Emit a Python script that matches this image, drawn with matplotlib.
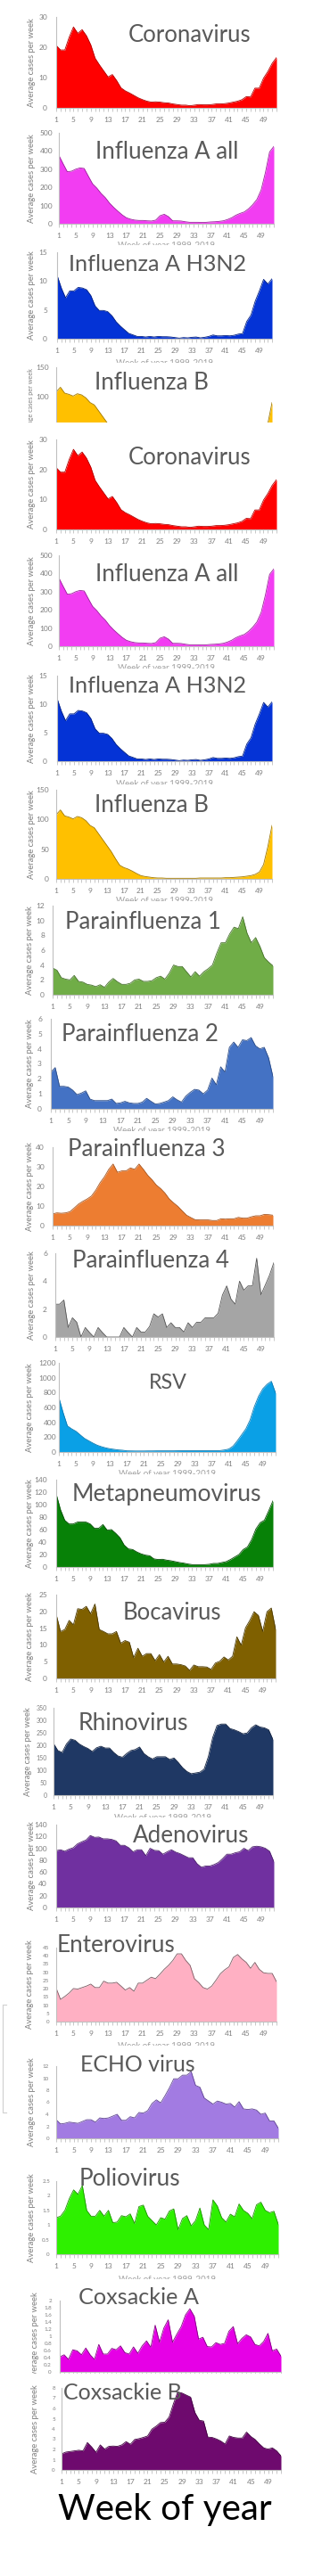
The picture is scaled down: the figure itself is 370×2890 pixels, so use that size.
import numpy as np
import matplotlib
matplotlib.use('Agg')
import matplotlib.pyplot as plt
from matplotlib.transforms import Bbox, TransformedBbox
from matplotlib.patches import Rectangle
from matplotlib.lines import Line2D
from matplotlib.ticker import FuncFormatter

W, H, DPI = 370, 2890, 100
plt.rcParams['font.family'] = ['Lato', 'DejaVu Sans']

weeks = list(range(1, 53))
week_tick_positions = list(range(1, 53, 4))
week_tick_labels = [str(w) for w in week_tick_positions]

coronavirus = [20.6, 19.1, 19.1, 23.3, 26.7, 24.6, 25.8, 23.8, 20.8, 16.4, 14.2, 12.2, 10.2, 11.0, 9.0, 6.6,
               5.6, 4.9, 4.1, 3.3, 2.7, 2.2, 1.9, 2.0, 1.9, 1.7, 1.6, 1.3, 1.1, 0.9, 0.9, 0.7, 0.9, 1.1, 1.0,
               1.0, 1.1, 1.3, 1.3, 1.4, 1.6, 1.9, 2.2, 2.7, 3.7, 3.6, 6.5, 6.5, 9.8, 12.0, 14.7, 16.6]
influenza_a_all = [376, 330, 286, 289, 300, 307, 304, 261, 219, 196, 167, 144, 114, 90, 69, 49, 33, 25, 20, 18,
                   18, 16, 15, 20, 44, 52, 39, 16, 16, 15, 11, 8, 8, 8, 7, 8, 10, 11, 13, 16,
                   23, 33, 47, 57, 65, 82, 105, 134, 186, 281, 395, 425]
influenza_a_h3n2 = [11.0, 8.8, 7.1, 8.3, 8.3, 8.9, 8.8, 8.5, 7.5, 5.7, 4.9, 4.9, 4.7, 4.0, 2.95, 2.2, 1.55, 0.93,
                    0.67, 0.4, 0.4, 0.3, 0.4, 0.3, 0.4, 0.35, 0.35, 0.3, 0.2, 0.1, 0.2, 0.15, 0.25, 0.3, 0.15,
                    0.25, 0.4, 0.65, 0.5, 0.5, 0.55, 0.5, 0.6, 0.8, 0.9, 3.0, 4.1, 6.5, 8.3, 10.3, 9.5, 10.4]
influenza_b = [108, 116, 106, 104, 101, 105, 103, 98, 90, 86, 76, 66, 56, 46, 34, 23, 19, 16.5, 13, 9,
               5.5, 4, 3, 2, 1.5, 1.5, 1, 1, 1, 1, 1, 1, 1, 1, 1.5, 1.5, 1.5, 1.5, 1.5, 1.5,
               2, 2, 2.5, 3, 3.5, 4.5, 5.5, 7.5, 11.5, 24, 54, 90]
parainfluenza_1 = [3.6, 3.3, 2.3, 2.1, 2.0, 2.6, 1.8, 1.7, 1.4, 1.3, 1.1, 1.35, 1.0, 1.7, 2.2, 1.75, 1.4, 1.4,
                   1.55, 2.0, 2.1, 1.8, 1.8, 1.9, 2.3, 2.5, 2.1, 2.9, 4.0, 3.8, 3.8, 3.1, 2.4, 3.1, 2.5, 3.1,
                   3.5, 4.0, 5.6, 7.0, 7.0, 8.2, 9.1, 8.9, 10.5, 8.3, 7.0, 7.7, 6.5, 5.0, 4.4, 3.9]
parainfluenza_2 = [2.45, 2.75, 1.5, 1.5, 1.45, 1.25, 0.95, 1.05, 1.2, 0.65, 0.55, 0.55, 0.55, 0.55, 0.65, 0.36,
                   0.4, 0.5, 0.4, 0.36, 0.36, 0.45, 0.7, 0.5, 0.32, 0.36, 0.45, 0.55, 0.8, 0.6, 0.45, 0.85,
                   1.1, 1.3, 1.25, 1.0, 1.25, 2.05, 1.6, 2.8, 2.45, 4.1, 4.45, 4.1, 4.6, 4.55, 4.75, 4.2,
                   4.0, 4.1, 3.4, 2.15]
parainfluenza_3 = [6.0, 6.5, 6.3, 6.5, 7.1, 9.0, 11.0, 12.4, 13.6, 15.1, 18.1, 21.9, 24.9, 28.7, 31.4, 27.2,
                   27.9, 27.9, 29.4, 28.7, 31.4, 28.7, 25.7, 23.4, 20.7, 18.9, 16.6, 13.6, 11.6, 9.8, 7.5,
                   5.3, 4.1, 3.0, 2.9, 2.9, 2.9, 2.6, 2.6, 3.5, 3.3, 3.5, 3.5, 4.2, 3.8, 3.8, 4.5, 5.0,
                   5.0, 5.7, 5.6, 5.3]
parainfluenza_4 = [2.35, 2.35, 2.65, 0.68, 1.38, 1.06, 0, 0.68, 0.32, 0, 0.68, 0.32, 0, 0, 0, 0, 0.68, 0.32,
                   0, 0.68, 0.36, 0.36, 0.75, 1.66, 1.43, 1.66, 0.68, 1.02, 0.68, 0.68, 0.36, 1.02, 0.68,
                   1.06, 1.06, 1.38, 1.38, 1.38, 1.7, 3.0, 3.66, 2.72, 2.35, 4.0, 3.36, 3.66, 3.66, 5.64,
                   3.02, 3.72, 4.43, 5.32]
rsv = [732, 530, 352, 312, 280, 232, 184, 152, 120, 92, 72, 56, 44, 36, 28, 24, 16, 15, 14, 14,
       14, 15, 15, 16, 16, 16, 16, 16, 17, 18, 18, 18, 18, 18, 18, 18, 18, 18, 20, 28,
       40, 80, 152, 232, 312, 432, 612, 752, 852, 912, 952, 792]
metapneumovirus = [117, 92, 75, 69, 69, 72, 72, 72, 69, 62, 62, 68, 59, 60, 54, 47, 35, 29, 28, 24,
                   21, 19, 18, 13, 12, 12.4, 11, 10, 8.6, 7.2, 6.2, 4.8, 3.8, 3.8, 3.8, 3.8, 4.3, 5.7,
                   5.7, 7.2, 8.6, 12, 16, 20, 28, 32, 44, 61, 71, 75, 90, 106]
bocavirus = [19.1, 14.0, 14.6, 17.3, 16.0, 20.8, 20.6, 21.5, 19.3, 22.2, 14.6, 14.0, 13.3, 13.3, 14.0, 10.5,
             11.3, 10.8, 6.2, 9.0, 6.6, 7.4, 7.4, 5.3, 7.1, 4.9, 6.6, 4.3, 4.3, 4.1, 3.7, 2.4, 4.0, 3.5,
             3.5, 3.4, 2.7, 4.6, 5.1, 6.4, 5.5, 6.6, 12.4, 9.9, 15.1, 17.3, 19.9, 18.8, 14.0, 19.9, 21.0, 14.6]
rhinovirus = [207, 179, 171, 205, 225, 220, 205, 195, 187, 175, 190, 196, 189, 189, 171, 157, 152, 167, 179,
              183, 193, 167, 154, 145, 154, 154, 154, 143, 149, 131, 110, 95, 86, 89, 92, 104, 155, 231,
              279, 285, 285, 267, 262, 255, 246, 249, 270, 282, 273, 270, 262, 223]
adenovirus = [96, 97.5, 95, 98.5, 101, 107.5, 111, 114, 121.5, 118.5, 119, 116, 116, 115, 112.5, 105, 105,
              101, 94, 97.5, 97.5, 87.5, 100, 96.5, 96, 90, 94, 97.5, 93.5, 91, 87.5, 84, 84, 74, 68, 70,
              70, 72.5, 76, 82.5, 90, 90, 92.5, 94, 100, 96, 102.5, 103.5, 102.5, 100, 95, 77.5]
enterovirus = [20.3, 13.5, 15.3, 17.4, 20.1, 19.8, 20.7, 21.6, 22.8, 20.7, 20.7, 24.6, 23.4, 23.4, 23.9, 21.6,
               19.2, 20.7, 18.5, 23.4, 23.4, 25.2, 27.0, 26.1, 28.8, 31.8, 34.2, 37.2, 41.2, 41.2, 37.2,
               34.2, 26.1, 23.7, 20.7, 19.8, 21.6, 25.2, 29.1, 31.5, 33.3, 39.0, 40.8, 38.1, 36.0, 32.4,
               36.0, 31.8, 29.7, 29.3, 29.3, 24.3]
echo_virus = [3.1, 2.4, 2.5, 2.7, 2.6, 2.5, 2.8, 3.1, 3.1, 2.7, 3.4, 3.3, 3.4, 3.7, 4.0, 3.0, 3.0, 3.6, 3.4,
              4.3, 4.2, 4.6, 5.8, 6.4, 5.9, 7.1, 8.4, 9.9, 9.9, 10.5, 10.5, 11.1, 8.8, 8.5, 6.7, 6.2, 5.7,
              6.2, 6.0, 5.7, 5.8, 5.2, 6.1, 4.9, 4.8, 4.9, 4.7, 4.0, 4.2, 2.9, 2.9, 1.7]
poliovirus = [1.25, 1.3, 1.5, 1.9, 2.2, 2.05, 2.35, 1.5, 1.3, 1.3, 1.5, 1.3, 1.5, 1.08, 1.1, 1.32, 1.28, 1.38,
              1.05, 1.63, 1.68, 1.3, 1.15, 1.0, 1.25, 1.2, 1.48, 1.55, 0.84, 1.22, 1.32, 0.97, 1.15, 1.58,
              1.0, 0.84, 1.86, 1.65, 1.25, 1.1, 1.37, 1.28, 1.72, 1.5, 1.4, 1.22, 1.69, 1.78, 1.5, 1.42,
              1.47, 1.02]
coxsackie_a = [0.42, 0.48, 0.35, 0.62, 0.59, 0.48, 0.67, 0.48, 0.35, 0.77, 0.5, 0.5, 0.66, 0.62, 0.73, 0.54,
               0.5, 0.7, 0.52, 0.73, 0.87, 0.69, 1.31, 0.83, 1.23, 1.46, 0.83, 1.06, 1.27, 1.6, 1.77, 1.56,
               0.92, 0.97, 0.71, 0.7, 0.82, 0.77, 0.8, 1.14, 1.27, 0.79, 0.94, 1.04, 0.98, 0.77, 0.73, 0.85,
               1.08, 0.59, 0.64, 0.44]
coxsackie_b = [1.57, 1.74, 1.8, 1.86, 1.92, 1.86, 2.67, 2.24, 1.72, 2.44, 2.03, 2.3, 2.33, 2.3, 2.44, 2.76,
               2.5, 2.97, 3.05, 3.17, 3.31, 3.98, 4.27, 4.62, 4.65, 5.15, 6.45, 7.6, 7.5, 7.3, 7.1, 5.6,
               4.85, 4.77, 3.2, 3.17, 3.02, 2.82, 2.53, 3.31, 3.17, 3.11, 3.11, 3.69, 3.26, 2.97, 2.53,
               2.15, 2.03, 2.15, 1.86, 1.37]

Y_LABEL = 'Average cases per week'
X_SUBLABEL = 'Week of year 1999-2019'
BIG_XLABEL = 'Week of year'

# (title, data, ymax, ystep, fill, edge, L, R, T, B, title_cx, title_base, title_w,
#  ylabel_x, ygap, ytick_fs, show_xticks, sublabel_y, clip_y)
panels = [
    ('Coronavirus', coronavirus, 30, 10, '#FF0000', '#B00000', 63, 310, 19, 121, 213, 47, 137, 35, 10, 6, True, None, None),
    ('Influenza A all', influenza_a_all, 500, 100, '#F23DF2', '#9A209A', 66, 307, 149, 251, 187, 178, 160, 35, 7, 6, True, 275, None),
    ('Influenza A H3N2', influenza_a_h3n2, 15, 5, '#0433D6', '#001E80', 64, 305, 283, 380, 177, 304, 199, 35, 11, 6, True, 407, None),
    ('Influenza B', influenza_b, 150, 50, '#FFC000', '#A07800', 63, 305, 412, 511, 170, 437, 127, 35, 8, 6, True, None, 474),
    ('Coronavirus', coronavirus, 30, 10, '#FF0000', '#B00000', 63, 310, 493, 594, 213, 521, 137, 35, 10, 6, True, None, None),
    ('Influenza A all', influenza_a_all, 500, 100, '#F23DF2', '#9A209A', 66, 307, 623, 725, 187, 652, 160, 35, 7, 6, True, 750, None),
    ('Influenza A H3N2', influenza_a_h3n2, 15, 5, '#0433D6', '#001E80', 64, 305, 758, 854, 177, 777, 199, 35, 11, 6, True, 880, None),
    ('Influenza B', influenza_b, 150, 50, '#FFC000', '#A07800', 63, 305, 886, 986, 170, 911, 127, 35, 8, 6, True, 1011, None),
    ('Parainfluenza 1', parainfluenza_1, 12, 2, '#70AD47', '#46702C', 59, 306, 1016, 1116, 160, 1042, 174, 33, 9, 6, True, None, None),
    ('Parainfluenza 2', parainfluenza_2, 6, 1, '#4472C4', '#2A4A85', 57, 306, 1143, 1244, 157, 1168, 175, 33, 10, 6, True, 1269, None),
    ('Parainfluenza 3', parainfluenza_3, 40, 10, '#ED7D31', '#A55520', 59, 306, 1287, 1375, 164, 1297, 176, 33, 9, 6, True, None, None),
    ('Parainfluenza 4', parainfluenza_4, 6, 2, '#A5A5A5', '#555555', 62, 307, 1406, 1500, 169, 1422, 175, 35, 9, 6, True, None, None),
    ('RSV', rsv, 1200, 200, '#0AA0E6', '#0A78B0', 66, 309, 1529, 1629, 188, 1558, 43, 34, 3, 6, True, 1654, None),
    ('Metapneumovirus', metapneumovirus, 140, 20, '#078107', '#034A03', 63, 306, 1660, 1758, 187, 1684, 212, 33, 10, 6, True, None, None),
    ('Bocavirus', bocavirus, 25, 5, '#7F6000', '#4A3800', 63, 309, 1789, 1883, 193, 1817, 110, 33, 10, 6, True, None, None),
    ('Rhinovirus', rhinovirus, 350, 50, '#1F3864', '#122240', 60, 306, 1916, 2014, 149, 1941, 123, 31, 7, 5, True, 2039, None),
    ('Adenovirus', adenovirus, 140, 20, '#7030A0', '#4A1E6A', 63, 307, 2047, 2140, 214, 2067, 130, 35, 10, 6, True, None, None),
    ('Enterovirus', enterovirus, 45, 5, '#FFB0C3', '#7A5A62', 63, 310, 2185, 2268, 130, 2190, 132, 34, 8, 4.5, True, 2295, None),
    ('ECHO virus', echo_virus, 12, 2, '#A27BE2', '#5E4490', 63, 312, 2318, 2399, 154, 2324, 128, 35, 8, 4.5, True, None, None),
    ('Poliovirus', poliovirus, 2.5, 0.5, '#2EF000', '#1D9000', 63, 312, 2447, 2529, 145, 2452, 113, 35, 7, 4.5, True, 2557, None),
    ('Coxsackie A', coxsackie_a, 2, 0.2, '#E600E6', '#800080', 67, 315, 2581, 2661, 156, 2585, 135, 39, 9, 4.5, True, None, 2663),
    ('Coxsackie B', coxsackie_b, 8, 1, '#6E0A6E', '#3E003E', 69, 315, 2679, 2771, 137, 2692, 133, 40, 7, 4.5, True, None, None),
]

fig = plt.figure(figsize=(W / DPI, H / DPI), dpi=DPI)
fig.patch.set_facecolor('white')
renderer = fig.canvas.get_renderer()


def fx(px):
    return px / W


def fy(py):
    return 1 - py / H


def fit(t, target, use_height=False):
    bb = t.get_window_extent(renderer)
    cur = bb.height if use_height else bb.width
    if cur > 0:
        t.set_fontsize(t.get_fontsize() * target / cur)


def clip_below(t, y_px):
    t.set_clip_on(True)
    t.set_clip_box(TransformedBbox(Bbox.from_extents(0, fy(y_px), 1, 1), fig.transFigure))


TICK_GRAY = '#7F7F7F'
AXIS_GRAY = '#BFBFBF'
TITLE_GRAY = '#595959'

for (title, data, ymax, ystep, fill, edge, L, R, T, B, tcx, tbase, tw,
     ylx, ygap, yfs, show_x, sub_y, clip_y) in panels:
    z = 0 if clip_y is not None else 1
    ax = fig.add_axes([fx(L), fy(B), (R - L) / W, (B - T) / H], zorder=z)
    ax.set_facecolor('none')
    ax.fill_between(weeks, 0, data, color=fill, lw=0, zorder=2)
    ax.plot(weeks, data, color=edge, lw=0.6, zorder=3)
    ax.set_xlim(1, 52)
    ax.set_ylim(0, ymax)
    ax.set_yticks(np.arange(0, ymax + ystep / 2, ystep))
    ax.yaxis.set_major_formatter(FuncFormatter(lambda v, p: f'{round(v, 3):g}'))
    ax.set_xticks(week_tick_positions)
    ax.set_xticklabels(week_tick_labels if show_x else [])
    ax.set_xticks(weeks, minor=True)
    ax.tick_params(axis='x', which='both', length=3, width=0.6, color=AXIS_GRAY,
                   direction='out', pad=4.3, labelsize=6, labelcolor=TICK_GRAY)
    ax.tick_params(axis='y', length=0, pad=ygap * 0.72, labelsize=yfs, labelcolor=TICK_GRAY)
    for s in ('top', 'right'):
        ax.spines[s].set_visible(False)
    for s in ('left', 'bottom'):
        ax.spines[s].set_color(AXIS_GRAY)
        ax.spines[s].set_linewidth(0.8)
        ax.spines[s].set_zorder(4)

    if clip_y is not None and clip_y < 1000:
        # partially visible panel: keep the label's full box above the next panel
        yl_center, yl_len = (T + 490) / 2, 490 - T - 2
    else:
        yl_center, yl_len = (T + B) / 2, 100
    yl = fig.text(fx(ylx), fy(yl_center), Y_LABEL, rotation=90, ha='center', va='center',
                  fontsize=6.5, color=TICK_GRAY, zorder=z + 0.1)
    fit(yl, yl_len, use_height=True)
    if clip_y is not None:
        clip_below(yl, clip_y)

    tt = fig.text(fx(tcx), fy(tbase), title, ha='center', va='baseline', fontsize=18,
                  color=TITLE_GRAY, zorder=z + 2)
    fit(tt, tw)

    if sub_y is not None:
        st = fig.text(fx((L + R) / 2), fy(sub_y), X_SUBLABEL, ha='center', va='center',
                      fontsize=7, color='#A0A0A0', zorder=3)
        st.set_clip_on(True)
        st.set_clip_box(TransformedBbox(Bbox.from_extents(0, fy(sub_y), 1, fy(sub_y - 10)),
                                        fig.transFigure))

    if clip_y is not None:
        h = 57 if clip_y < 1000 else 37
        fig.add_artist(Rectangle((0, fy(clip_y + h)), 1, h / H,
                                 transform=fig.transFigure, facecolor='white',
                                 edgecolor='none', zorder=0.5))

big = fig.text(fx(185), fy(2827), BIG_XLABEL, ha='center', va='baseline', fontsize=25,
               color='black', zorder=3)
fit(big, 240)

fig.add_artist(Line2D([fx(7), fx(3), fx(3), fx(7)], [fy(2249), fy(2249), fy(2370), fy(2370)],
                      transform=fig.transFigure, color='#D0D0D0', lw=0.8, zorder=3))

fig.savefig('out.png', dpi=DPI, facecolor='white')
